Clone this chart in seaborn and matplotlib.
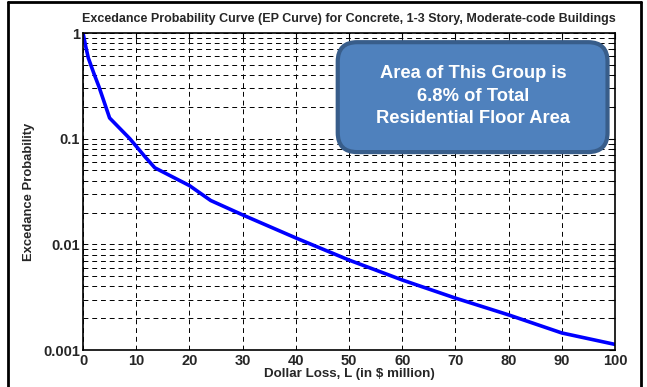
import matplotlib
matplotlib.use("Agg")
import matplotlib.pyplot as plt
import seaborn as sns
import pandas as pd
import numpy as np
from matplotlib.patches import FancyBboxPatch
from matplotlib.lines import Line2D
from matplotlib.ticker import LogLocator, FixedLocator, NullFormatter

loss = [0, 0.5, 1, 2, 3, 5, 8.8, 11.7, 13.5, 20, 24, 30, 40, 50, 60, 70, 80, 90, 100]
prob = [1.0, 0.75, 0.58, 0.42, 0.31, 0.157, 0.1, 0.067, 0.053, 0.036, 0.026, 0.019,
        0.0115, 0.0071, 0.0046, 0.0031, 0.00215, 0.00145, 0.00113]
xticks = [0, 10, 20, 30, 40, 50, 60, 70, 80, 90, 100]
yticks = [0.001, 0.01, 0.1, 1]
ytick_labels = ["0.001", "0.01", "0.1", "1"]

sns.set_style("white")
plt.rcParams['font.family'] = ['Liberation Sans', 'DejaVu Sans']

df = pd.DataFrame({"loss": loss, "prob": prob})
fig = plt.figure(figsize=(6.47, 3.87), dpi=100)
ax = fig.add_axes([0.1283, 0.0956, 0.8222, 0.8191])
sns.lineplot(data=df, x="loss", y="prob", ax=ax, color="#0000ff", linewidth=2.6)
ax.set_yscale("log")
ax.set_xlim(0, 100)
ax.set_ylim(0.001, 1)
ax.set_xticks(xticks)
ax.set_xticklabels([str(t) for t in xticks], fontweight="bold", fontsize=10.5)
ax.yaxis.set_major_locator(FixedLocator(yticks))
ax.set_yticklabels(ytick_labels, fontweight="bold", fontsize=10.5)
ax.yaxis.set_minor_locator(LogLocator(base=10, subs=np.arange(2, 10)))
ax.yaxis.set_minor_formatter(NullFormatter())
ax.tick_params(which="both", direction="in", top=True, right=True, length=4, width=0.8, color="black", pad=2)
ax.tick_params(axis="x", which="major", pad=3)
ax.tick_params(which="minor", length=2.5)
ax.grid(True, which="major", axis="both", color="black", linestyle=(0, (5, 4)), linewidth=0.7)
ax.grid(True, which="minor", axis="y", color="black", linestyle=(0, (5, 4)), linewidth=0.7)
for s in ax.spines.values():
    s.set_visible(True)
    s.set_color("black")
    s.set_linewidth(1.2)
ax.set_xlabel("Dollar Loss, L (in $ million)", fontweight="bold", fontsize=9.6, labelpad=0)
ax.set_ylabel("Excedance Probability", fontweight="bold", fontsize=9.4, labelpad=6)
ax.set_title("Excedance Probability Curve (EP Curve) for Concrete, 1-3 Story, Moderate-code Buildings",
             fontweight="bold", fontsize=9.0, pad=8)

box = FancyBboxPatch((0.522, 0.607), 0.417, 0.284, boxstyle="round,pad=0,rounding_size=0.03",
                     transform=fig.transFigure, facecolor="#4F81BD", edgecolor="#385D8A",
                     linewidth=3, zorder=5, mutation_aspect=647/387)
fig.patches.append(box)
fig.text(0.731, 0.751, "Area of This Group is\n6.8% of Total\nResidential Floor Area",
         ha="center", va="center", color="white", fontweight="bold", fontsize=13.2,
         linespacing=1.42, zorder=6)

# outer frame
fig.add_artist(Line2D([0.013, 0.013], [0, 0.995], transform=fig.transFigure, color="black", linewidth=2))
fig.add_artist(Line2D([0.013, 0.99], [0.995, 0.995], transform=fig.transFigure, color="black", linewidth=2))
fig.add_artist(Line2D([0.99, 0.99], [0, 0.995], transform=fig.transFigure, color="black", linewidth=2))

fig.savefig("out.png", dpi=100)
